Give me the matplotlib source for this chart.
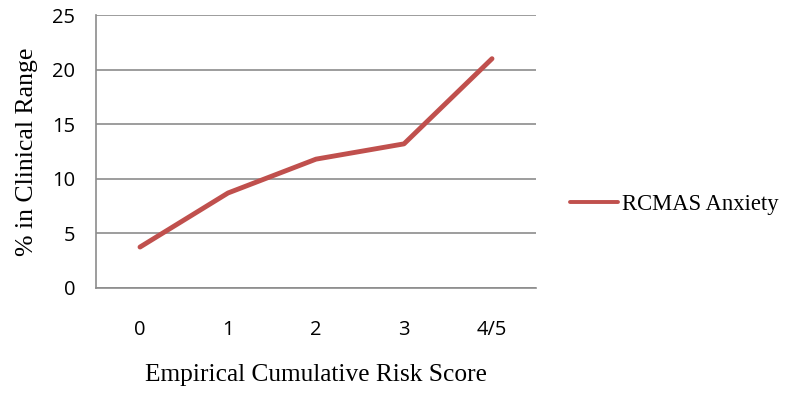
import matplotlib.pyplot as plt

categories = ['0', '1', '2', '3', '4/5']
rcmas_anxiety = [3.75, 8.7, 11.8, 13.2, 21.0]
y_ticks = [0, 5, 10, 15, 20, 25]

fig = plt.figure(figsize=(7.85, 3.95), dpi=100)
ax = fig.add_axes([0.1223, 0.2709, 0.5605, 0.6911])

x = list(range(len(categories)))
ax.plot(x, rcmas_anxiety, color='#C0504D', linewidth=3.5, solid_capstyle='round',
        label='RCMAS Anxiety')

ax.set_xlim(-0.5, len(categories) - 0.5)
ax.set_ylim(0, 25)
ax.set_yticks(y_ticks)
ax.set_xticks(x)
ax.set_xticklabels(categories)
ax.yaxis.grid(True, color='#8c8c8c', linewidth=1.2)
ax.set_axisbelow(True)

for s in ('top', 'right'):
    ax.spines[s].set_visible(False)
for s in ('left', 'bottom'):
    ax.spines[s].set_color('#8c8c8c')
    ax.spines[s].set_linewidth(1.2)

ax.tick_params(length=0, labelsize=14.5, colors='black')
ax.tick_params(axis='x', pad=23)
ax.tick_params(axis='y', pad=15)
for lbl in ax.get_xticklabels() + ax.get_yticklabels():
    lbl.set_family('Open Sans')

ax.set_xlabel('Empirical Cumulative Risk Score', family='Liberation Serif',
              fontsize=18.3, labelpad=17)
ax.set_ylabel('% in Clinical Range', family='Liberation Serif', fontsize=18.5,
              labelpad=10)

leg = fig.legend(loc='center left', bbox_to_anchor=(0.7006, 0.483), frameon=False,
                 prop={'family': 'Liberation Serif', 'size': 16.3}, handlelength=2.1,
                 handletextpad=0.2)
for h in leg.get_lines():
    h.set_linewidth(2.8)

fig.savefig('out.png', dpi=100)
plt.close()
